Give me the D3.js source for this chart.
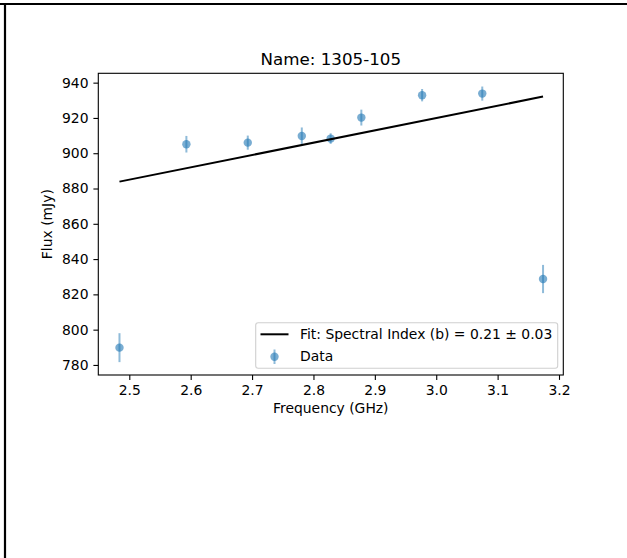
<!DOCTYPE html>
<html>
<head>
<meta charset="utf-8">
<script src="https://cdn.jsdelivr.net/npm/d3@7"></script>
<style>
  html, body { margin: 0; padding: 0; background: #fff; }
  svg { display: block; }
  text { font-family: "DejaVu Sans", sans-serif; fill: #000; }
</style>
</head>
<body>
<svg id="chart" width="627" height="558"></svg>
<script>
// ---- data ----
const freq = [2.484, 2.593, 2.693, 2.781, 2.828, 2.878, 2.977, 3.075, 3.174];
const flux = [789.8, 905.1, 906.0, 909.8, 908.3, 920.2, 932.9, 933.8, 828.7];
const fluxErr = [8.2, 4.7, 4.0, 4.8, 3.0, 4.5, 3.5, 4.0, 8.0];
const fitFreq = [2.484, 3.174];
const fitFlux = [883.9, 932.1];
const xTicks = [2.5, 2.6, 2.7, 2.8, 2.9, 3.0, 3.1, 3.2];
const yTicks = [780, 800, 820, 840, 860, 880, 900, 920, 940];
const titleText = "Name: 1305-105";
const xLabel = "Frequency (GHz)";
const yLabel = "Flux (mJy)";
const fitLabel = "Fit: Spectral Index (b) = 0.21 \u00b1 0.03";
const dataLabel = "Data";

const svg = d3.select("#chart");
const W = 627, H = 558;
const L = 98.3, R = 563.3, T = 73.3, B = 375;
const blue = "#1f77b4";
const fs = 13.9;

// outer frame (top and left edges visible)
svg.append("line").attr("x1", 0).attr("x2", W).attr("y1", 4).attr("y2", 4)
  .attr("stroke", "#000").attr("stroke-width", 2.2);
svg.append("line").attr("x1", 5).attr("x2", 5).attr("y1", 3).attr("y2", H)
  .attr("stroke", "#000").attr("stroke-width", 2.2);

const x = d3.scaleLinear().domain([2.4495, 3.207]).range([L, R]);
const y = d3.scaleLinear().domain([774.3, 945.3]).range([B, T]);

// axes
const xAxis = d3.axisBottom(x).tickValues(xTicks).tickSize(4.9).tickPadding(4.9)
  .tickFormat(d3.format(".1f"));
const yAxis = d3.axisLeft(y).tickValues(yTicks).tickSize(4.9).tickPadding(4.9)
  .tickFormat(d3.format("d"));

const gx = svg.append("g").attr("transform", `translate(0,${B})`).call(xAxis);
const gy = svg.append("g").attr("transform", `translate(${L},0)`).call(yAxis);
[gx, gy].forEach(g => {
  g.select(".domain").remove();
  g.selectAll(".tick line").attr("stroke", "#000").attr("stroke-width", 1.1);
  g.selectAll(".tick text").attr("font-size", fs).attr("font-family", "DejaVu Sans").attr("fill", "#000");
});

// data error bars and markers
const pts = freq.map((f, i) => ({ f, v: flux[i], e: fluxErr[i] }));
const gData = svg.append("g");
gData.selectAll("line.err").data(pts).join("line").attr("class", "err")
  .attr("x1", d => x(d.f)).attr("x2", d => x(d.f))
  .attr("y1", d => y(d.v - d.e)).attr("y2", d => y(d.v + d.e))
  .attr("stroke", blue).attr("stroke-opacity", 0.5).attr("stroke-width", 2);
gData.selectAll("circle").data(pts).join("circle")
  .attr("cx", d => x(d.f)).attr("cy", d => y(d.v)).attr("r", 4.2)
  .attr("fill", blue).attr("fill-opacity", 0.6);

// fit line
const line = d3.line().x(d => x(d[0])).y(d => y(d[1]));
svg.append("path").datum(fitFreq.map((f, i) => [f, fitFlux[i]]))
  .attr("d", line).attr("fill", "none").attr("stroke", "#000").attr("stroke-width", 2);

// spines
svg.append("rect").attr("x", L).attr("y", T).attr("width", R - L).attr("height", B - T)
  .attr("fill", "none").attr("stroke", "#000").attr("stroke-width", 1.1);

// title and labels
svg.append("text").attr("x", (L + R) / 2).attr("y", 65).attr("text-anchor", "middle")
  .attr("font-size", 16.7).text(titleText);
svg.append("text").attr("x", (L + R) / 2).attr("y", 413).attr("text-anchor", "middle")
  .attr("font-size", fs).text(xLabel);
svg.append("text").attr("transform", `translate(52,${(T + B) / 2}) rotate(-90)`)
  .attr("text-anchor", "middle").attr("font-size", fs).text(yLabel);

// legend
const lg = svg.append("g");
lg.append("rect").attr("x", 255.7).attr("y", 322.7).attr("width", 302).attr("height", 45.6)
  .attr("rx", 2.5).attr("fill", "#fff").attr("fill-opacity", 0.8)
  .attr("stroke", "#d0d0d0").attr("stroke-width", 1.1);
lg.append("line").attr("x1", 260.5).attr("x2", 288.5).attr("y1", 334.3).attr("y2", 334.3)
  .attr("stroke", "#000").attr("stroke-width", 2);
lg.append("text").attr("x", 300).attr("y", 339).attr("font-size", fs).text(fitLabel);
lg.append("line").attr("x1", 274.5).attr("x2", 274.5).attr("y1", 349.5).attr("y2", 364)
  .attr("stroke", blue).attr("stroke-opacity", 0.5).attr("stroke-width", 2);
lg.append("circle").attr("cx", 274.5).attr("cy", 356.7).attr("r", 4.2)
  .attr("fill", blue).attr("fill-opacity", 0.6);
lg.append("text").attr("x", 300).attr("y", 361).attr("font-size", fs).text(dataLabel);
</script>
</body>
</html>
